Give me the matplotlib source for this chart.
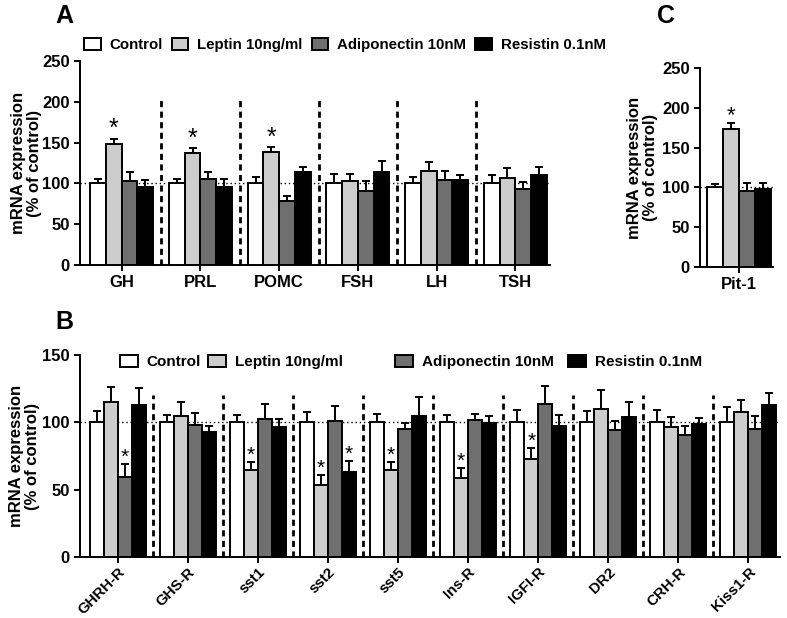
import matplotlib
matplotlib.use('Agg')
import matplotlib.pyplot as plt
from matplotlib.patches import Patch
import numpy as np

plt.rcParams['font.family'] = ['Liberation Sans', 'DejaVu Sans']
plt.rcParams['font.weight'] = 'bold'
plt.rcParams['axes.labelweight'] = 'bold'

# ---------------- data ----------------
series = ['Control', 'Leptin 10ng/ml', 'Adiponectin 10nM', 'Resistin 0.1nM']
colors = ['white', '#cdcdcd', '#6f6f6f', 'black']

# Panel A
a_genes = ['GH', 'PRL', 'POMC', 'FSH', 'LH', 'TSH']
a_control = [100, 100, 100, 100, 100, 100]
a_leptin = [148, 137, 139, 103, 115, 107]
a_adipo = [103, 105, 79, 91, 104.5, 93]
a_resistin = [95, 95, 113.6, 114, 104, 110.6]
a_control_err = [5, 5, 7.4, 11.4, 7.3, 10]
a_leptin_err = [7, 6.2, 5.7, 9, 11, 12]
a_adipo_err = [10.6, 8.6, 5.8, 12, 10.5, 9]
a_resistin_err = [9, 10, 6.1, 13, 6, 9]
a_stars = [(0, 1), (1, 1), (2, 1)]  # (gene index, series index)

# Panel C
c_genes = ['Pit-1']
c_control = [100]
c_leptin = [173]
c_adipo = [95.4]
c_resistin = [98]
c_control_err = [4]
c_leptin_err = [7.7]
c_adipo_err = [10.6]
c_resistin_err = [7]
c_stars = [(0, 1)]

# Panel B
b_genes = ['GHRH-R', 'GHS-R', 'sst1', 'sst2', 'sst5', 'Ins-R', 'IGFI-R', 'DR2', 'CRH-R', 'Kiss1-R']
b_control = [100, 100, 100, 100, 100, 100, 100, 100, 100, 100]
b_leptin = [114.9, 104.5, 64.3, 53.8, 64.3, 58.6, 72.7, 110.2, 96.5, 107.4]
b_adipo = [59.6, 98.3, 102.7, 100.7, 95.3, 101.5, 113.9, 94.3, 90.6, 94.8]
b_resistin = [112.7, 93, 96.5, 63, 104.5, 99.3, 97, 104.2, 99, 113.2]
b_control_err = [8.4, 5.5, 5.2, 8, 6.5, 5.5, 9, 8.7, 9.4, 11.4]
b_leptin_err = [11.4, 10.5, 5.9, 7.2, 6.2, 7.2, 8.3, 14.1, 7.7, 9.5]
b_adipo_err = [9.1, 8.7, 10.7, 11.7, 4.2, 4.7, 12.9, 6.4, 6.4, 10.2]
b_resistin_err = [13.1, 4.5, 6, 8.2, 14.1, 5.7, 8.2, 10.8, 4, 8.6]
b_stars = [(0, 2), (2, 1), (3, 1), (3, 3), (4, 1), (5, 1), (6, 1)]

W, H = 787, 618
fig = plt.figure(figsize=(W / 100, H / 100), dpi=100)


def px_axes(left, top, right, bottom):
    return fig.add_axes([left / W, 1 - bottom / H, (right - left) / W, (bottom - top) / H])


LW = 1.4
BW = 0.2


def draw(ax, genes, means, errs, stars, star_size, star_pad, ticksize):
    n = len(genes)
    x0 = np.arange(n)
    for j in range(4):
        x = x0 + (j - 1.5) * BW
        ax.bar(x, means[j], width=BW, color=colors[j], edgecolor='black',
               linewidth=LW, zorder=3)
        ax.errorbar(x, means[j], yerr=[np.zeros(n), errs[j]], fmt='none',
                    ecolor='black', elinewidth=LW, capsize=3.2, capthick=LW, zorder=2)
    for g, s in stars:
        top = means[s][g] + errs[s][g]
        ax.annotate('*', xy=(g + (s - 1.5) * BW, top), xytext=(0, star_pad),
                    textcoords='offset points', ha='center', va='bottom',
                    fontsize=star_size, fontweight='normal', zorder=5)
    ax.axhline(100, color='black', linestyle=(0, (1, 2)), linewidth=1, zorder=1)
    for sp in ['top', 'right']:
        ax.spines[sp].set_visible(False)
    for sp in ['left', 'bottom']:
        ax.spines[sp].set_linewidth(LW)
    ax.set_xticks(x0)
    ax.tick_params(axis='both', direction='out', length=4, width=LW, labelsize=ticksize)


# Panel A
axA = px_axes(80, 61, 550, 265)
draw(axA, a_genes, [a_control, a_leptin, a_adipo, a_resistin],
     [a_control_err, a_leptin_err, a_adipo_err, a_resistin_err], a_stars, 18, -2, 12)
axA.set_ylim(0, 250)
axA.set_yticks(np.arange(0, 251, 50))
axA.set_xlim(-0.53, 5.44)
axA.set_xticklabels(a_genes, fontweight='bold')
axA.vlines(np.arange(len(a_genes) - 1) + 0.5, 0, 202, colors='black',
           linestyles=(0, (2.2, 1.6)), linewidth=2, zorder=4)
axA.set_ylabel('mRNA expression\n(% of control)', fontsize=12, fontweight='bold',
               linespacing=1.05)
axA.yaxis.set_label_coords(-0.081, 0.5)

# Panel C
axC = px_axes(700, 68, 773, 267)
draw(axC, c_genes, [c_control, c_leptin, c_adipo, c_resistin],
     [c_control_err, c_leptin_err, c_adipo_err, c_resistin_err], c_stars, 16, -2, 12)
axC.set_ylim(0, 250)
axC.set_yticks(np.arange(0, 251, 50))
axC.set_xlim(-0.49, 0.43)
axC.set_xticklabels(c_genes, fontweight='bold')
axC.set_ylabel('mRNA expression\n(% of control)', fontsize=12, fontweight='bold',
               linespacing=1.05)
axC.yaxis.set_label_coords(-0.575, 0.5)

# Panel B
axB = px_axes(80, 355, 780, 557)
draw(axB, b_genes, [b_control, b_leptin, b_adipo, b_resistin],
     [b_control_err, b_leptin_err, b_adipo_err, b_resistin_err], b_stars, 15, -2, 12)
axB.set_ylim(0, 150)
axB.set_yticks(np.arange(0, 151, 50))
axB.set_xlim(-0.54, 9.45)
axB.set_xticklabels(b_genes, rotation=45, ha='right', rotation_mode='anchor',
                    fontweight='bold', fontsize=10.8)
axB.tick_params(axis='x', pad=1.5)
axB.vlines(np.arange(len(b_genes) - 1) + 0.5, 0, 120, colors='black',
           linestyles=(0, (2.2, 1.6)), linewidth=2, zorder=4)
axB.set_ylabel('mRNA expression\n(% of control)', fontsize=12, fontweight='bold',
               linespacing=1.05)
axB.yaxis.set_label_coords(-0.057, 0.5)

for ax in (axA, axB, axC):
    for lab in ax.get_yticklabels() + ax.get_xticklabels():
        lab.set_fontweight('bold')

# Legends
handles = [Patch(facecolor=c, edgecolor='black', linewidth=LW) for c in colors]
fig.legend(handles, series, loc='center left', bbox_to_anchor=(84 / W, 1 - 45 / H),
           ncol=4, frameon=False, prop={'size': 10.8, 'weight': 'bold'},
           handlelength=1.1, handleheight=0.9, handletextpad=0.6,
           columnspacing=0.6, borderaxespad=0, borderpad=0)

b_leg_x = [120, 208, 395, 568]
for h, lab, lx in zip(handles, series, b_leg_x):
    fig.legend([h], [lab], loc='center left', bbox_to_anchor=(lx / W, 1 - 362 / H),
               frameon=False, prop={'size': 11, 'weight': 'bold'},
               handlelength=1.15, handleheight=0.9, handletextpad=0.6,
               borderaxespad=0, borderpad=0)

# Panel letters
fig.text(55 / W, 1 - 16 / H, 'A', fontsize=18, fontweight='bold', va='center', ha='left')
fig.text(55 / W, 1 - 322 / H, 'B', fontsize=18, fontweight='bold', va='center', ha='left')
fig.text(657 / W, 1 - 16 / H, 'C', fontsize=18, fontweight='bold', va='center', ha='left')

fig.savefig('out.png', dpi=100)
